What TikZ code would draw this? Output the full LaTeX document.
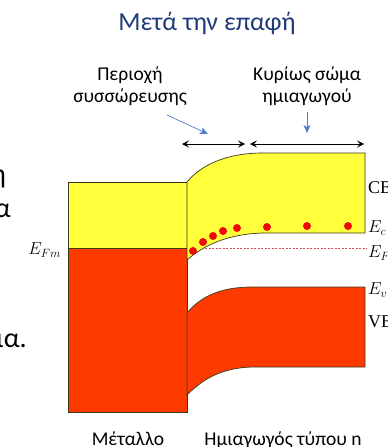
\documentclass[tikz,border=0pt]{standalone}
\usepackage{fontspec}
\setmainfont{Carlito}
\newfontfamily\bandfont{Liberation Serif}
\usepackage{xcolor}
\usetikzlibrary{arrows.meta}
\definecolor{bandY}{HTML}{FFFF3C}
\definecolor{bandR}{HTML}{FF3A00}
\definecolor{edgeD}{HTML}{3A3A1E}
\definecolor{titleB}{HTML}{1F3B78}
\definecolor{pointB}{HTML}{4A80C8}
\definecolor{dotR}{HTML}{EE0A0A}
\definecolor{fermiR}{HTML}{D8485A}

\begin{document}
\begin{tikzpicture}[x=1pt,y=-1pt,
  band/.style={draw=edgeD,line width=0.7pt},
  span/.style={{Stealth[length=7pt,width=7pt,inset=3pt]}-{Stealth[length=7pt,width=7pt,inset=3pt]},line width=0.7pt},
  pointer/.style={-{Stealth[length=8pt,width=7pt,inset=2pt]},pointB,line width=0.7pt},
  lbl/.style={font=\fontsize{19.5}{22}\selectfont,align=center},
  bandlbl/.style={anchor=west,inner sep=0pt,font=\fontsize{18}{20}\bandfont}]
  \useasboundingbox (0,0) rectangle (388,447);

  \node[font=\fontsize{26}{30}\selectfont,text=titleB] (title) at (207,23) {Μετά την επαφή};
  \node[lbl] (accum) at (130,86) {Περιοχή\\συσσώρευσης};
  \node[lbl] (bulk) at (307,86) {Κυρίως σώμα\\ημιαγωγού};

  \node[anchor=base east,inner sep=0pt,font=\fontsize{28}{30}\selectfont] (frag1) at (6,183) {ή};
  \node[anchor=base east,inner sep=0pt,font=\fontsize{28}{30}\selectfont] (frag2) at (11,217) {α};
  \node[anchor=base east,inner sep=0pt,font=\fontsize{28}{30}\selectfont] (frag3) at (27,347) {ια.};

  % metal
  \filldraw[band,fill=bandY] (68,182) rectangle (187,248);
  \filldraw[band,fill=bandR] (68,248) rectangle (187,412);

  % semiconductor bands
  \filldraw[band,fill=bandY] (187,182) .. controls (200,166) and (225,153) .. (263,153)
    -- (365,153) -- (365,233) -- (263,233)
    .. controls (228,234) and (204,245) .. (187,260) -- cycle;
  \filldraw[band,fill=bandR] (187,313) .. controls (200,297) and (220,287) .. (252,287)
    -- (365,287) -- (365,367) -- (252,367)
    .. controls (220,368) and (202,380) .. (187,395) -- cycle;

  \draw[fermiR,line width=0.6pt,dash pattern=on 2pt off 1.5pt] (205,248) -- (367,248);
  \foreach \ex/\ey in {193/251,203/242,213/236,223/231,237/228,267/227,307/226,348/226}
    \fill[dotR] (\ex,\ey) circle (4);

  \node[anchor=east,inner sep=1pt,font=\fontsize{18}{20}\selectfont] (efm) at (62,250) {$E_{Fm}$};
  \node[bandlbl] (cb) at (368,188) {CB};
  \node[bandlbl] (ec) at (368,228) {$E_c$};
  \node[bandlbl] (ef) at (368,253) {$E_F$};
  \node[bandlbl] (ev) at (368,290) {$E_v$};
  \node[bandlbl] (vb) at (368,322) {VB};

  \coordinate (s1) at (182,144);
  \coordinate (s2) at (245,144);
  \coordinate (s3) at (250,144);
  \coordinate (s4) at (364,144);
  \draw[span] (s1) -- (s2);
  \draw[span] (s3) -- (s4);

  \coordinate (p1) at (167,115);
  \coordinate (p2) at (208,134);
  \coordinate (p3) at (307,112);
  \coordinate (p4) at (307,133);
  \draw[pointer] (p1) -- (p2);
  \draw[pointer] (p3) -- (p4);

  \node[anchor=base,font=\fontsize{19.5}{22}\selectfont] (metal) at (128,445) {Μέταλλο};
  \node[anchor=base,font=\fontsize{19.5}{22}\selectfont] (semi) at (283,445) {Ημιαγωγός τύπου n};
\end{tikzpicture}
\end{document}
